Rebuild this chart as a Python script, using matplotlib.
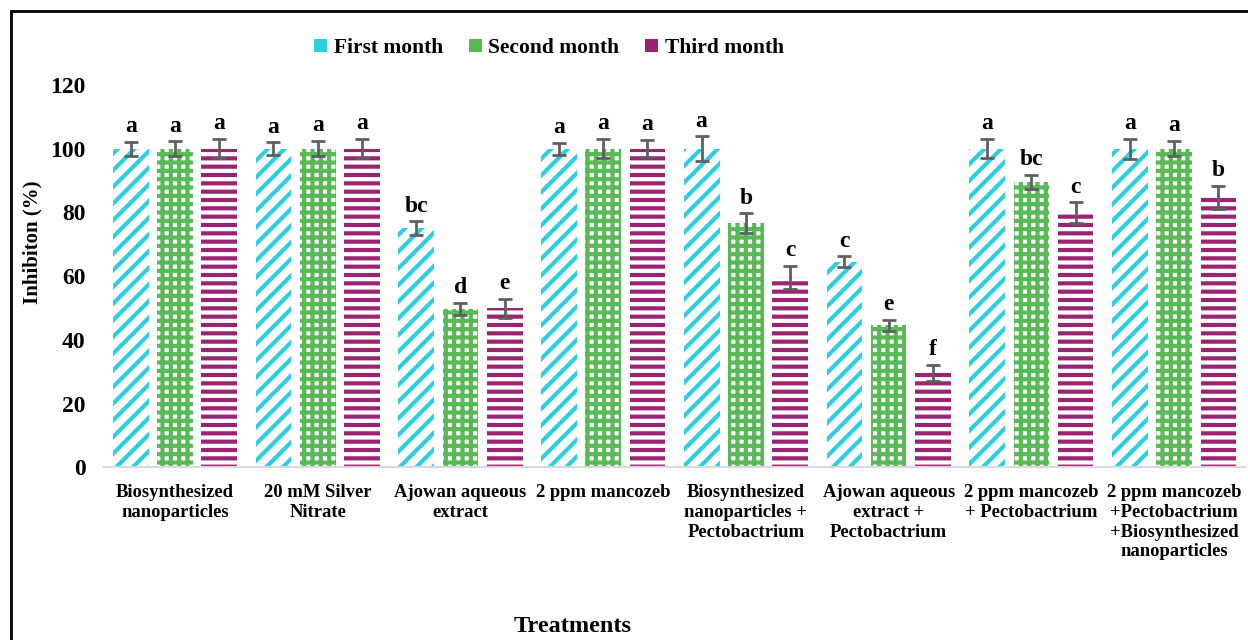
import matplotlib
matplotlib.use("Agg")
import matplotlib.pyplot as plt
import numpy as np
from matplotlib.patches import Rectangle

# ---- data ----
treatments = [
    "Biosynthesized\nnanoparticles",
    "20 mM Silver\nNitrate",
    "Ajowan aqueous\nextract",
    "2 ppm mancozeb",
    "Biosynthesized\nnanoparticles +\nPectobactrium",
    "Ajowan aqueous\nextract +\nPectobactrium",
    "2 ppm mancozeb\n+ Pectobactrium",
    "2 ppm mancozeb\n+Pectobactrium\n+Biosynthesized\nnanoparticles",
]
series = ["First month", "Second month", "Third month"]

first_month = [100, 100, 75, 100, 100, 64.5, 100, 100]
second_month = [100, 100, 49.7, 100, 76.7, 44.6, 89.6, 100]
third_month = [100, 100, 49.9, 100, 59.6, 29.6, 80, 84.8]

first_err = [2.2, 2.0, 2.2, 1.9, 3.9, 1.7, 3.0, 3.1]
second_err = [2.3, 2.4, 2.0, 3.0, 3.0, 1.7, 2.2, 2.4]
third_err = [3.0, 3.0, 3.0, 2.7, 3.6, 2.5, 3.2, 3.6]

first_letters = ["a", "a", "bc", "a", "a", "c", "a", "a"]
second_letters = ["a", "a", "d", "a", "b", "e", "bc", "a"]
third_letters = ["a", "a", "e", "a", "c", "f", "c", "b"]

yticks = [0, 20, 40, 60, 80, 100, 120]

# ---- style ----
plt.rcParams["font.family"] = ["Liberation Serif", "DejaVu Serif"]
plt.rcParams["font.weight"] = "bold"
plt.rcParams["hatch.linewidth"] = 3.0

styles = [
    dict(facecolor="white", edgecolor="#2ccfe0", hatch="//"),
    dict(facecolor="white", edgecolor="#59b957", hatch="++"),
    dict(facecolor="#9a2471", edgecolor="white", hatch="--"),
]
legend_colors = ["#2ccfe0", "#59b957", "#9a2471"]

fig = plt.figure(figsize=(12.48, 6.4), dpi=100)
ax = fig.add_axes([0.083, 0.270, 0.915, 0.597])

x = np.arange(len(treatments))
width = 0.25
offsets = [-0.31, 0.0, 0.31]
values = [first_month, second_month, third_month]
errors = [first_err, second_err, third_err]
letters = [first_letters, second_letters, third_letters]

for i in range(3):
    ax.bar(x + offsets[i], values[i], width, linewidth=0, **styles[i])
    ax.errorbar(x + offsets[i], values[i], yerr=errors[i], fmt="none",
                ecolor="#5f5f5f", elinewidth=2, capsize=5, capthick=2)
    for xi, v, e, lab in zip(x + offsets[i], values[i], errors[i], letters[i]):
        ax.text(xi, v + e + 1.5, lab, ha="center", va="bottom",
                fontsize=17, fontweight="bold")

ax.set_xlim(-0.5, len(treatments) - 0.5)
ax.set_ylim(0, 120)
ax.set_yticks(yticks)
ax.set_yticklabels([str(t) for t in yticks], fontsize=17, fontweight="bold")
ax.set_xticks(x)
ax.set_xticklabels(treatments, fontsize=13.4, fontweight="bold", linespacing=1.22)
ax.tick_params(axis="both", length=0)
ax.tick_params(axis="y", pad=13)
ax.tick_params(axis="x", pad=12)
for s in ["top", "right", "left"]:
    ax.spines[s].set_visible(False)
ax.spines["bottom"].set_color("#d9d9d9")
ax.spines["bottom"].set_linewidth(1.5)

fig.text(32 / 1248, 1 - 242 / 640, "Inhibiton (%)", ha="center", va="center",
         rotation=90, fontsize=15, fontweight="bold")
fig.text(573 / 1248, 1 - 627 / 640, "Treatments", ha="center", va="center",
         fontsize=17.5, fontweight="bold")

# legend
handles = [Rectangle((0, 0), 1, 1, facecolor=c, edgecolor="none") for c in legend_colors]
fig.legend(handles, series, loc="center", bbox_to_anchor=(549 / 1248, 1 - 48 / 640),
           ncol=3, frameon=False, prop=dict(size=15.5, weight="bold"),
           handlelength=0.6, handleheight=0.6, handletextpad=0.3, columnspacing=1.2)

# figure border (left / top visible)
fig.patches.append(Rectangle((11 / 1248, -0.1), 1.2, 1 - 11 / 640 + 0.1,
                             transform=fig.transFigure, fill=False,
                             edgecolor="black", linewidth=2))

fig.savefig("out.png", dpi=100)
